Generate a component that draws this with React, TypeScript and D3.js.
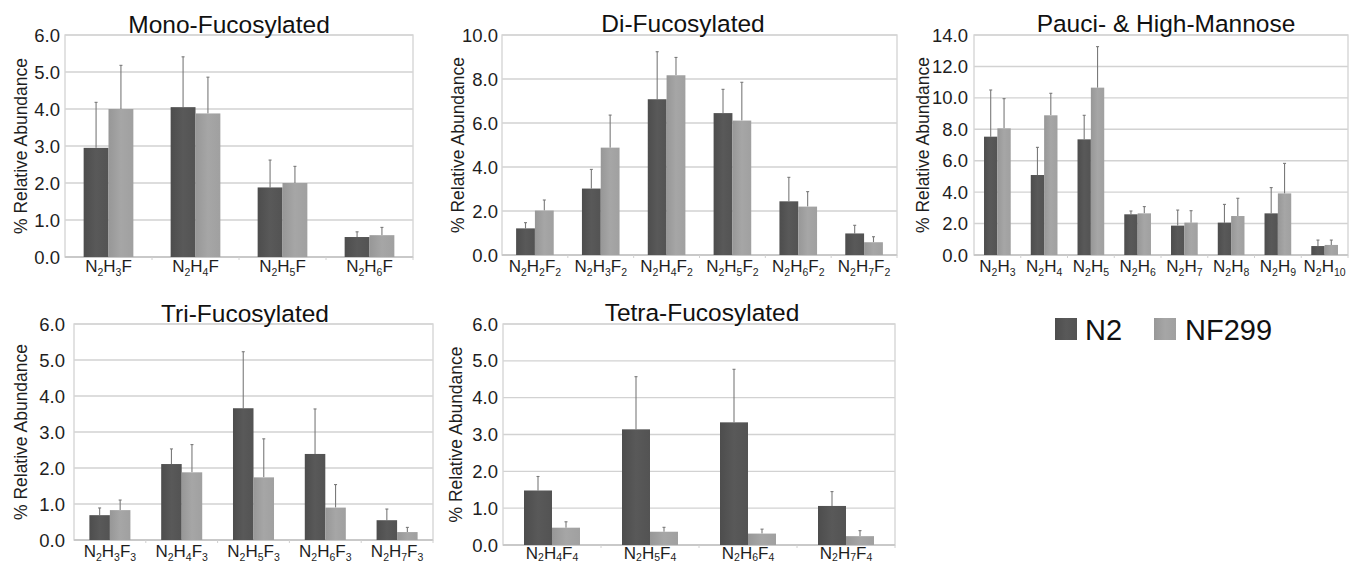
import React from "react";
import * as d3 from "d3";

// ---------- DATA ----------
const seriesNames = ["N2", "NF299"];

const monoCats = ["N2H3F", "N2H4F", "N2H5F", "N2H6F"];
const monoN2 = [2.95, 4.05, 1.88, 0.54];
const monoN2Err = [1.23, 1.36, 0.74, 0.14];
const monoNF = [4.0, 3.88, 2.0, 0.59];
const monoNFErr = [1.18, 0.98, 0.45, 0.21];

const diCats = ["N2H2F2", "N2H3F2", "N2H4F2", "N2H5F2", "N2H6F2", "N2H7F2"];
const diN2 = [1.21, 3.02, 7.08, 6.45, 2.44, 0.98];
const diN2Err = [0.26, 0.87, 2.16, 1.08, 1.09, 0.37];
const diNF = [2.02, 4.88, 8.17, 6.11, 2.2, 0.58];
const diNFErr = [0.48, 1.48, 0.81, 1.74, 0.68, 0.25];

const pauciCats = ["N2H3", "N2H4", "N2H5", "N2H6", "N2H7", "N2H8", "N2H9", "N2H10"];
const pauciN2 = [7.53, 5.09, 7.36, 2.59, 1.87, 2.06, 2.65, 0.57];
const pauciN2Err = [2.97, 1.76, 1.53, 0.21, 0.99, 1.16, 1.64, 0.38];
const pauciNF = [8.06, 8.89, 10.65, 2.65, 2.06, 2.48, 3.92, 0.64];
const pauciNFErr = [1.89, 1.4, 2.61, 0.43, 0.76, 1.13, 1.91, 0.31];

const triCats = ["N2H3F3", "N2H4F3", "N2H5F3", "N2H6F3", "N2H7F3"];
const triN2 = [0.69, 2.11, 3.66, 2.39, 0.55];
const triN2Err = [0.2, 0.42, 1.57, 1.25, 0.31];
const triNF = [0.83, 1.88, 1.74, 0.9, 0.22];
const triNFErr = [0.28, 0.77, 1.07, 0.64, 0.13];

const tetraCats = ["N2H4F4", "N2H5F4", "N2H6F4", "N2H7F4"];
const tetraN2 = [1.48, 3.14, 3.33, 1.06];
const tetraN2Err = [0.38, 1.43, 1.44, 0.39];
const tetraNF = [0.47, 0.36, 0.31, 0.24];
const tetraNFErr = [0.16, 0.12, 0.12, 0.15];

const monoTicks = [0, 1, 2, 3, 4, 5, 6];
const diTicks = [0, 2, 4, 6, 8, 10];
const pauciTicks = [0, 2, 4, 6, 8, 10, 12, 14];
const triTicks = [0, 1, 2, 3, 4, 5, 6];
const tetraTicks = [0, 1, 2, 3, 4, 5, 6];

const yLabel = "% Relative Abundance";

// ---------- LAYOUT ----------
const FONT = "'Liberation Sans', Arial, Helvetica, sans-serif";
const W = 1351;
const H = 564;

type Panel = {
  title: string;
  cats: string[];
  n2: number[];
  n2e: number[];
  nf: number[];
  nfe: number[];
  ticks: number[];
  box: { l: number; r: number; t: number; b: number };
  titleX: number;
  titleY: number;
  yLabX: number;
  tickX: number;
  labY: number;
  subDy: number;
};

const panels: Panel[] = [
  {
    title: "Mono-Fucosylated", cats: monoCats, n2: monoN2, n2e: monoN2Err, nf: monoNF, nfe: monoNFErr,
    ticks: monoTicks, box: { l: 65, r: 413, t: 35, b: 257 }, titleX: 229, titleY: 33, yLabX: 21, tickX: 60, labY: 272, subDy: 4,
  },
  {
    title: "Di-Fucosylated", cats: diCats, n2: diN2, n2e: diN2Err, nf: diNF, nfe: diNFErr,
    ticks: diTicks, box: { l: 502, r: 897, t: 35, b: 255 }, titleX: 683, titleY: 32, yLabX: 458, tickX: 498, labY: 272, subDy: 4,
  },
  {
    title: "Pauci- & High-Mannose", cats: pauciCats, n2: pauciN2, n2e: pauciN2Err, nf: pauciNF, nfe: pauciNFErr,
    ticks: pauciTicks, box: { l: 974, r: 1348, t: 35, b: 255 }, titleX: 1166, titleY: 32, yLabX: 923, tickX: 968, labY: 272, subDy: 4,
  },
  {
    title: "Tri-Fucosylated", cats: triCats, n2: triN2, n2e: triN2Err, nf: triNF, nfe: triNFErr,
    ticks: triTicks, box: { l: 74, r: 433, t: 324, b: 540 }, titleX: 245, titleY: 322, yLabX: 21, tickX: 65, labY: 557, subDy: 4,
  },
  {
    title: "Tetra-Fucosylated", cats: tetraCats, n2: tetraN2, n2e: tetraN2Err, nf: tetraNF, nfe: tetraNFErr,
    ticks: tetraTicks, box: { l: 503, r: 895, t: 324, b: 545 }, titleX: 702, titleY: 321, yLabX: 456, tickX: 498, labY: 559, subDy: 2,
  },
];

function Formula({ text, x, y, subDy }: { text: string; x: number; y: number; subDy: number }) {
  const parts: { el: string; sub: string }[] = [];
  const re = /([A-Z])(\d*)/g;
  let m: RegExpExecArray | null;
  while ((m = re.exec(text)) !== null) parts.push({ el: m[1], sub: m[2] });
  const nodes: React.ReactNode[] = [];
  let shifted = false;
  parts.forEach((p, i) => {
    nodes.push(
      <tspan key={"e" + i} fontSize={17} dy={shifted ? -subDy : 0}>
        {p.el}
      </tspan>
    );
    shifted = false;
    if (p.sub) {
      nodes.push(
        <tspan key={"s" + i} fontSize={10.5} dy={subDy}>
          {p.sub}
        </tspan>
      );
      shifted = true;
    }
  });
  return (
    <text x={x} y={y} textAnchor="middle" fontFamily={FONT} fill="#1e1e1e">
      {nodes}
    </text>
  );
}

function PanelChart({ p }: { p: Panel }) {
  const { l, r, t, b } = p.box;
  const ymax = p.ticks[p.ticks.length - 1];
  const y = d3.scaleLinear().domain([0, ymax]).range([b, t]);
  const x0 = d3
    .scaleBand<string>()
    .domain(p.cats)
    .range([l, r])
    .paddingInner(1.5 / 3.5)
    .paddingOuter(0.75 / 3.5);
  const x1 = d3.scaleBand<string>().domain(seriesNames).range([0, x0.bandwidth()]);
  const step = x0.step();
  const fmt = d3.format(".1f");
  const vals = [p.n2, p.nf];
  const errs = [p.n2e, p.nfe];
  const fills = ["url(#gN2)", "url(#gNF)"];
  return (
    <g>
      {/* grid */}
      {p.ticks.map((tk) => (
        <line key={"g" + tk} x1={l} x2={r} y1={y(tk)} y2={y(tk)} stroke="#d2d2d2" strokeWidth={1.4} />
      ))}
      {/* plot border */}
      <rect x={l} y={t} width={r - l} height={b - t} fill="none" stroke="#d6d6d6" strokeWidth={1.4} />
      <line x1={l} x2={r} y1={b} y2={b} stroke="#c4c4c4" strokeWidth={1.4} />
      {/* category ticks */}
      {p.cats.map((c, i) => (
        <line key={"ct" + i} x1={l + step * (i + 1)} x2={l + step * (i + 1)} y1={b} y2={b + 3} stroke="#d0d0d0" strokeWidth={1} />
      ))}
      {/* tick labels */}
      {p.ticks.map((tk) => (
        <text key={"t" + tk} x={p.tickX} y={y(tk) + 6.5} textAnchor="end" fontFamily={FONT} fontSize={18.5} fill="#1e1e1e">
          {fmt(tk)}
        </text>
      ))}
      {/* bars */}
      {p.cats.map((c, i) =>
        seriesNames.map((s, k) => {
          const bx = (x0(c) as number) + (x1(s) as number);
          const bw = x1.bandwidth();
          const v = vals[k][i];
          const e = errs[k][i];
          const cx = bx + bw / 2;
          return (
            <g key={c + s}>
              <line x1={cx} x2={cx} y1={y(v)} y2={y(v + e)} stroke="#7a7a7a" strokeWidth={1.1} />
              <line x1={cx - 1.5} x2={cx + 1.5} y1={y(v + e)} y2={y(v + e)} stroke="#7a7a7a" strokeWidth={1.1} />
              <rect x={bx} y={y(v)} width={bw} height={b - y(v)} fill={fills[k]} />
            </g>
          );
        })
      )}
      {/* x labels */}
      {p.cats.map((c) => (
        <Formula key={"xl" + c} text={c} x={(x0(c) as number) + x0.bandwidth() / 2} y={p.labY} subDy={p.subDy} />
      ))}
      {/* title */}
      <text x={p.titleX} y={p.titleY} textAnchor="middle" fontFamily={FONT} fontSize={24.5} fill="#111">
        {p.title}
      </text>
      {/* y label */}
      <text
        transform={`translate(${p.yLabX},${(t + b) / 2}) rotate(-90)`}
        textAnchor="middle"
        dy={6}
        fontFamily={FONT}
        fontSize={17.5}
        fill="#1e1e1e"
      >
        {yLabel}
      </text>
    </g>
  );
}

export default function App() {
  return (
    <svg width={W} height={H} style={{ position: "absolute", left: 0, top: 0, background: "#fff" }}>
      <defs>
        <linearGradient id="gN2" x1="0" x2="1" y1="0" y2="0">
          <stop offset="0" stopColor="#4d4d4d" />
          <stop offset="0.5" stopColor="#595959" />
          <stop offset="1" stopColor="#535353" />
        </linearGradient>
        <linearGradient id="gNF" x1="0" x2="1" y1="0" y2="0">
          <stop offset="0" stopColor="#979797" />
          <stop offset="0.5" stopColor="#a6a6a6" />
          <stop offset="1" stopColor="#a0a0a0" />
        </linearGradient>
      </defs>
      <rect x={0} y={0} width={W} height={H} fill="#fff" />
      {panels.map((p) => (
        <PanelChart key={p.title} p={p} />
      ))}
      {/* legend */}
      <rect x={1055} y={318} width={22} height={22} fill="url(#gN2)" />
      <text x={1085} y={340} fontFamily={FONT} fontSize={29} fill="#111">
        {seriesNames[0]}
      </text>
      <rect x={1154} y={318} width={22} height={22} fill="url(#gNF)" />
      <text x={1185} y={340} fontFamily={FONT} fontSize={29} fill="#111">
        {seriesNames[1]}
      </text>
    </svg>
  );
}
